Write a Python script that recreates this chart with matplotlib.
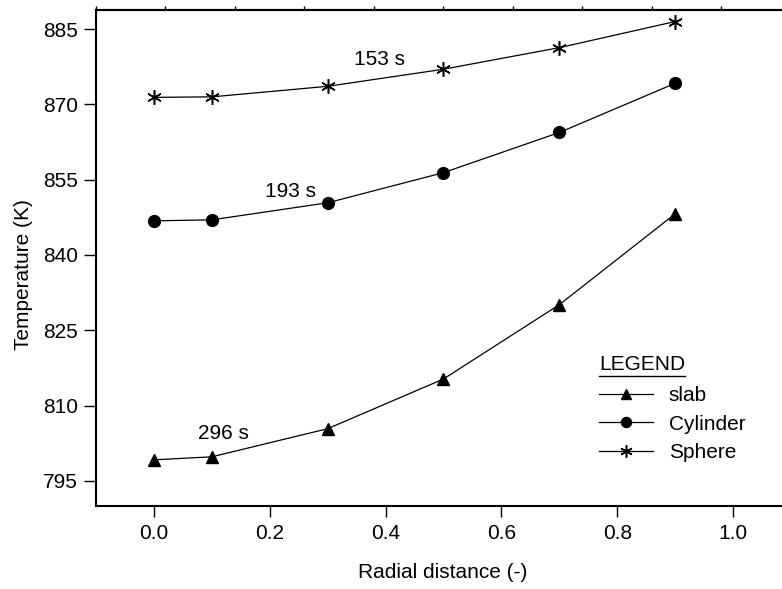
import matplotlib
matplotlib.use("Agg")
import matplotlib.pyplot as plt
from matplotlib.lines import Line2D

plt.rcParams['font.family'] = ['Liberation Sans', 'DejaVu Sans']

radial = [0.0, 0.1, 0.3, 0.5, 0.7, 0.9]
slab = [799.2, 799.8, 805.4, 815.3, 830.1, 848.2]
cylinder = [846.8, 847.0, 850.4, 856.4, 864.4, 874.2]
sphere = [871.4, 871.5, 873.6, 877.0, 881.3, 886.5]
series_labels = ["slab", "Cylinder", "Sphere"]
time_labels = ["296 s", "193 s", "153 s"]
time_label_pos = [(0.12, 804.5), (0.236, 852.6), (0.39, 878.9)]
xticks = [0.0, 0.2, 0.4, 0.6, 0.8, 1.0]
yticks = [795, 810, 825, 840, 855, 870, 885]

fig = plt.figure(figsize=(7.82, 5.89), dpi=100)
W, H = 782, 589
left, right, top, bottom = 96, 791, 10, 506
ax = fig.add_axes([left / W, 1 - bottom / H, (right - left) / W, (bottom - top) / H])

def axx(px):
    return (px - left) / (right - left)

def axy(py):
    return 1 - (py - top) / (bottom - top)

fs = 15
ax.plot(radial, slab, color='black', lw=0.9, marker='^', ms=9, label=series_labels[0])
ax.plot(radial, cylinder, color='black', lw=0.9, marker='o', ms=8.5, label=series_labels[1])
ax.plot(radial, sphere, color='black', lw=0.9, marker=(6, 2, 0), ms=10.5, mew=1.1, label=series_labels[2])

for txt, (xx, yy) in zip(time_labels, time_label_pos):
    ax.text(xx, yy, txt, ha='center', va='center', fontsize=fs)

ax.set_xlim(-0.1, 1.1)
ax.set_ylim(790, 888.8)
ax.set_xticks(xticks)
ax.set_xticklabels([f"{v:.1f}" for v in xticks])
ax.set_yticks(yticks)
ax.set_yticklabels([str(v) for v in yticks])
ax.tick_params(axis='both', direction='out', length=8, width=1, labelsize=fs, pad=5)
ax.tick_params(axis='y', length=9, pad=4)

# top axis minor ticks
sec = ax.secondary_xaxis('top')
sec.set_xticks([-0.1 + 0.12 * k for k in range(11)])
sec.set_xticklabels([])
sec.tick_params(direction='out', length=3, width=1)
sec.spines['top'].set_linewidth(1.5)

for s in ['left', 'bottom', 'top']:
    ax.spines[s].set_linewidth(1.5)
ax.spines['right'].set_visible(False)

fig.text(443 / W, 1 - 572 / H, "Radial distance (-)", ha='center', va='center', fontsize=fs)
fig.text(24 / W, 1 - 275 / H, "Temperature (K)", rotation=90, ha='center', va='center', fontsize=fs)

leg = ax.legend(loc='center left', bbox_to_anchor=(axx(599), axy(424)),
                frameon=False, fontsize=fs, handlelength=2.6, handletextpad=0.75,
                labelspacing=0.45, borderpad=0, borderaxespad=0, markerscale=0.85)
ax.text(axx(599), axy(365), "LEGEND", transform=ax.transAxes,
        ha='left', va='center', fontsize=fs)
ax.add_line(Line2D([axx(599), axx(685)], [axy(376)] * 2, transform=ax.transAxes, color='black', lw=1))

fig.savefig("out.png", dpi=100)
